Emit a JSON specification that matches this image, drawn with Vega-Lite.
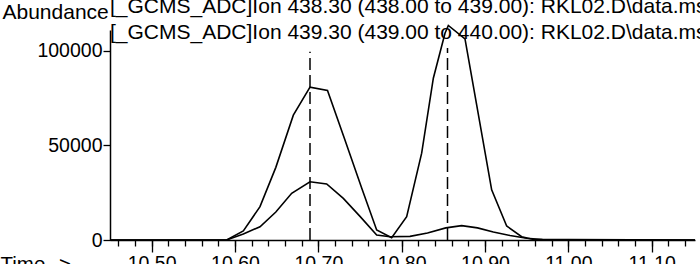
{
  "$schema": "https://vega.github.io/schema/vega-lite/v6.json",
  "width": 585,
  "height": 210,
  "autosize": {"type": "none"},
  "padding": {"left": 110, "top": 30, "right": 5, "bottom": 24},
  "background": "white",
  "config": {
    "view": {"stroke": null},
    "font": "Liberation Sans",
    "axis": {"grid": false, "domainColor": "black", "tickColor": "black", "labelColor": "black", "titleColor": "black", "labelFont": "Liberation Sans", "titleFont": "Liberation Sans", "titleFontWeight": "normal", "domainWidth": 1.5, "tickWidth": 1.3}
  },
  "title": {
    "text": ["[_GCMS_ADC]Ion 438.30 (438.00 to 439.00): RKL02.D\\data.ms", "[_GCMS_ADC]Ion 439.30 (439.00 to 440.00): RKL02.D\\data.ms"],
    "anchor": "start",
    "frame": "group",
    "fontSize": 21,
    "fontWeight": "normal",
    "font": "Liberation Sans",
    "color": "black",
    "lineHeight": 26,
    "offset": -59,
    "baseline": "alphabetic"
  },
  "datasets": {
    "trace": [
      {"ion": "438.30", "time": 10.45, "abundance": 0},
      {"ion": "438.30", "time": 10.59, "abundance": 0},
      {"ion": "438.30", "time": 10.61, "abundance": 4760},
      {"ion": "438.30", "time": 10.63, "abundance": 17620},
      {"ion": "438.30", "time": 10.649, "abundance": 38400},
      {"ion": "438.30", "time": 10.67, "abundance": 66000},
      {"ion": "438.30", "time": 10.69, "abundance": 80800},
      {"ion": "438.30", "time": 10.711, "abundance": 79000},
      {"ion": "438.30", "time": 10.731, "abundance": 54000},
      {"ion": "438.30", "time": 10.752, "abundance": 27500},
      {"ion": "438.30", "time": 10.77, "abundance": 5300},
      {"ion": "438.30", "time": 10.788, "abundance": 1200},
      {"ion": "438.30", "time": 10.806, "abundance": 12300},
      {"ion": "438.30", "time": 10.824, "abundance": 45900},
      {"ion": "438.30", "time": 10.838, "abundance": 85500},
      {"ion": "438.30", "time": 10.852, "abundance": 109300},
      {"ion": "438.30", "time": 10.856, "abundance": 113400},
      {"ion": "438.30", "time": 10.876, "abundance": 106300},
      {"ion": "438.30", "time": 10.89, "abundance": 71400},
      {"ion": "438.30", "time": 10.908, "abundance": 26500},
      {"ion": "438.30", "time": 10.926, "abundance": 7400},
      {"ion": "438.30", "time": 10.944, "abundance": 1750},
      {"ion": "438.30", "time": 10.957, "abundance": 370},
      {"ion": "438.30", "time": 11.0, "abundance": 200},
      {"ion": "438.30", "time": 11.152, "abundance": 0},
      {"ion": "439.30", "time": 10.45, "abundance": 0},
      {"ion": "439.30", "time": 10.59, "abundance": 0},
      {"ion": "439.30", "time": 10.61, "abundance": 3200},
      {"ion": "439.30", "time": 10.63, "abundance": 7000},
      {"ion": "439.30", "time": 10.649, "abundance": 14800},
      {"ion": "439.30", "time": 10.668, "abundance": 24700},
      {"ion": "439.30", "time": 10.69, "abundance": 30800},
      {"ion": "439.30", "time": 10.71, "abundance": 29600},
      {"ion": "439.30", "time": 10.73, "abundance": 22000},
      {"ion": "439.30", "time": 10.75, "abundance": 12500},
      {"ion": "439.30", "time": 10.77, "abundance": 2650},
      {"ion": "439.30", "time": 10.786, "abundance": 1750},
      {"ion": "439.30", "time": 10.81, "abundance": 1900},
      {"ion": "439.30", "time": 10.831, "abundance": 3700},
      {"ion": "439.30", "time": 10.853, "abundance": 6400},
      {"ion": "439.30", "time": 10.872, "abundance": 7600},
      {"ion": "439.30", "time": 10.891, "abundance": 6400},
      {"ion": "439.30", "time": 10.91, "abundance": 4200},
      {"ion": "439.30", "time": 10.93, "abundance": 2400},
      {"ion": "439.30", "time": 10.95, "abundance": 900},
      {"ion": "439.30", "time": 10.969, "abundance": 300},
      {"ion": "439.30", "time": 11.0, "abundance": 100},
      {"ion": "439.30", "time": 11.152, "abundance": 0}
    ],
    "markers": [
      {"time": 10.69, "base": 0, "top": 99500},
      {"time": 10.855, "base": 0, "top": 101500}
    ]
  },
  "layer": [
    {
      "data": {"name": "trace"},
      "mark": {"type": "line", "color": "black", "strokeWidth": 1.6, "clip": false},
      "encoding": {
        "x": {
          "field": "time", "type": "quantitative",
          "scale": {"domain": [10.45, 11.152], "nice": false, "zero": false},
          "axis": {"orient": "bottom", "values": [10.46, 10.48, 10.5, 10.52, 10.54, 10.56, 10.58, 10.6, 10.62, 10.64, 10.66, 10.68, 10.7, 10.72, 10.74, 10.76, 10.78, 10.8, 10.82, 10.84, 10.86, 10.88, 10.9, 10.92, 10.94, 10.96, 10.98, 11.0, 11.02, 11.04, 11.06, 11.08, 11.1, 11.12, 11.14], "labels": false, "tickSize": 6, "title": null, "domain": true}
        },
        "y": {
          "field": "abundance", "type": "quantitative",
          "scale": {"domain": [0, 111000], "nice": false},
          "axis": {"values": [0, 50000, 100000], "format": "d", "tickSize": 7, "labelPadding": 1, "labelFontSize": 19.5, "title": "Abundance", "titleAngle": 0, "titleAlign": "left", "titleBaseline": "alphabetic", "titleX": -108, "titleY": -12, "titleFontSize": 21}
        },
        "detail": {"field": "ion"},
        "order": {"field": "time"}
      }
    },
    {
      "data": {"name": "markers"},
      "mark": {"type": "rule", "color": "black", "strokeWidth": 1.5, "strokeDash": [12, 5]},
      "encoding": {
        "x": {
          "field": "time", "type": "quantitative",
          "axis": {"orient": "bottom", "values": [10.5, 10.6, 10.7, 10.8, 10.9, 11.0, 11.1], "format": ".2f", "tickSize": 12, "labelPadding": 2, "labelFontSize": 19.5, "labelBaseline": "top", "domain": false, "title": "Time-->", "titleX": -110, "titleY": 14, "titleAlign": "left", "titleBaseline": "top", "titleFontSize": 20.5}
        },
        "y": {"field": "base", "type": "quantitative"},
        "y2": {"field": "top"}
      }
    }
  ],
  "resolve": {"axis": {"x": "independent"}}
}
